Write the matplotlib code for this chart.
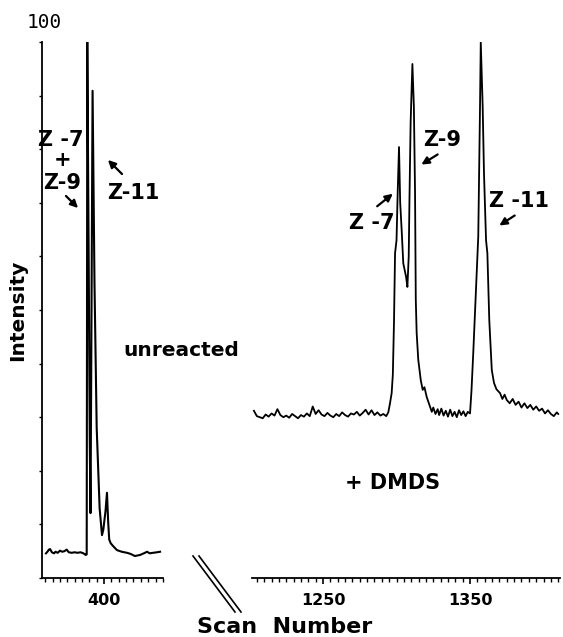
import matplotlib.pyplot as plt
from matplotlib.lines import Line2D
from matplotlib.patches import FancyArrowPatch
from matplotlib.ticker import MultipleLocator

# --- data ---
# left panel: unreacted sample
scan_left = [360.5, 361.5, 362.5, 363.3, 364.5, 366, 367, 368.5, 370, 371.5, 373, 374.6, 376, 378, 380,
             382, 384, 386, 387.5, 388.2, 388.4, 388.6, 389.5, 390.3, 390.8, 391.3, 392.2, 393.5, 395,
             397, 398.6, 399.5, 401, 402, 402.8, 403.5, 404.5, 406, 408.8, 412, 415.6, 418, 421, 424.5,
             427, 429.3, 431, 433.3, 436, 438.1]
int_left = [4.6, 4.9, 5.3, 5.4, 4.8, 4.6, 4.9, 4.7, 5.1, 4.9, 5.0, 5.3, 4.8, 4.7, 4.8,
            4.7, 4.8, 4.6, 4.3, 4.4, 45, 100, 62, 25, 12.1, 40, 90.9, 55, 28,
            13, 8.0, 9, 12.5, 15.9, 10.5, 7.2, 6.5, 6.0, 5.2, 4.9, 4.7, 4.5, 4.1, 4.3,
            4.6, 4.9, 4.6, 4.7, 4.8, 4.9]

# right panel: after DMDS derivatisation
scan_right = [1203, 1205, 1207, 1209, 1211, 1213, 1215, 1217, 1219, 1221, 1223, 1225, 1227, 1229, 1231,
              1233, 1235, 1237, 1239, 1241, 1243, 1245, 1247, 1249, 1251, 1253, 1255, 1257, 1259, 1261,
              1263, 1265, 1267, 1269, 1271, 1273, 1275, 1277, 1279, 1281, 1283, 1285, 1287, 1289, 1291,
              1293, 1294.4, 1295.5, 1296.7, 1297.5, 1298.3, 1299, 1300, 1300.8, 1301.7, 1302.5, 1303.5,
              1304.6, 1306.5, 1307.4, 1308.3, 1308.8, 1309.6, 1310.8, 1311.8, 1312.6, 1313.1, 1313.7,
              1314.8, 1316.5, 1317.8, 1319, 1320.5, 1322.8, 1324, 1325, 1326.5, 1328, 1329, 1330.5,
              1332, 1333.5, 1335, 1336.5, 1338, 1339.5, 1341, 1342.5, 1344, 1345.5, 1347, 1348.5,
              1350, 1351, 1352.2, 1354.1, 1355.6, 1356.2, 1356.8, 1357.3, 1358.6, 1359.5, 1360.9,
              1361.8, 1363.1, 1364.8, 1366.3, 1368, 1370.4, 1372, 1373.5, 1375, 1377, 1379, 1381,
              1383, 1385, 1387, 1389, 1391, 1393, 1395, 1397, 1399, 1401, 1403, 1405, 1407, 1409, 1410]
int_right = [31.2, 30.2, 30.0, 29.8, 30.5, 30.1, 30.7, 30.3, 31.5, 30.4, 30.0, 30.3, 29.9, 30.6, 30.2,
             29.8, 30.4, 30.1, 30.7, 30.2, 32.0, 30.6, 31.3, 30.5, 30.2, 30.8, 30.3, 30.0, 30.6, 30.2,
             30.9, 30.4, 30.1, 30.7, 30.5, 31.0, 30.3, 30.8, 31.4, 30.5, 31.3, 30.4, 30.9, 30.3, 30.6,
             30.2, 30.9, 32.5, 34.5, 38, 48, 60.6, 63, 72, 80.4, 70, 64.9,
             58.7, 56.2, 54.3, 60, 70.5, 85, 95.9, 88, 72, 52, 45.7,
             40.7, 36.9, 35.1, 35.6, 33.8, 32.0, 31.0, 31.8, 30.6, 31.5, 30.4, 31.6,
             30.3, 31.2, 30.1, 31.4, 30.2, 31.0, 30.0, 31.3, 30.4, 31.1, 30.2, 31.0,
             30.7, 35, 42, 54.3, 63.7, 75.5, 88, 100, 88, 75.5, 63,
             60.6, 48.1, 38.8, 36.4, 35.2, 34.5, 33.4, 34.2, 33.2, 32.6, 33.4, 32.3,
             32.9, 31.8, 32.6, 31.7, 32.3, 31.4, 32.0, 31.2, 31.6, 30.7, 31.3, 30.6, 30.2, 30.9, 30.6]

W, H = 563, 637


def fp(x, y):
    # pixel position (from top left) -> figure fraction
    return (x / W, 1 - y / H)


fig = plt.figure(figsize=(W / 100, H / 100), dpi=100)
bot = (H - 578) / H
hgt = 536 / H
ax_l = fig.add_axes([42 / W, bot, 121 / W, hgt])
ax_r = fig.add_axes([252 / W, bot, 308 / W, hgt])

ax_l.plot(scan_left, int_left, color='black', lw=1.5)
ax_r.plot(scan_right, int_right, color='black', lw=1.3)

ax_l.set_xlim(357.8, 440.1)
ax_r.set_xlim(1201.7, 1411.2)
for ax in (ax_l, ax_r):
    ax.set_ylim(0, 100)
    ax.patch.set_visible(False)
    ax.spines['top'].set_visible(False)
    ax.spines['right'].set_visible(False)
    ax.spines['bottom'].set_linewidth(1.3)
    ax.xaxis.set_minor_locator(MultipleLocator(5))
    ax.tick_params(axis='x', which='minor', direction='out', length=3, width=1)
    ax.tick_params(axis='x', which='major', direction='out', length=4.5, width=1.2, pad=6,
                   labelsize=11.5)

ax_l.set_xticks([400])
ax_l.set_xticklabels(['400'], fontweight='bold')
ax_r.set_xticks([1250, 1350])
ax_r.set_xticklabels(['1250', '1350'], fontweight='bold')

ax_l.spines['left'].set_linewidth(1.3)
ax_l.set_yticks(range(0, 101, 10))
ax_l.tick_params(axis='y', direction='out', length=2.5, width=1, labelleft=False)
ax_r.spines['left'].set_visible(False)
ax_r.set_yticks([])

# texts
bold = dict(fontweight='bold', fontfamily='DejaVu Sans', ha='center', va='center')
fig.text(*fp(44, 23), '100', fontsize=14, fontfamily='DejaVu Sans Mono', ha='center', va='center')
fig.text(*fp(18, 310), 'Intensity', rotation=90, fontsize=14.5, **bold)
fig.text(*fp(61, 140), 'Z -7', fontsize=15, **bold)
fig.text(*fp(63, 160), '+', fontsize=15, **bold)
fig.text(*fp(62, 183), 'Z-9', fontsize=15, **bold)
fig.text(*fp(133, 193), 'Z-11', fontsize=15, **bold)
fig.text(*fp(181, 350), 'unreacted', fontsize=14.5, **bold)
fig.text(*fp(442, 140), 'Z-9', fontsize=15, **bold)
fig.text(*fp(372, 223), 'Z -7', fontsize=15, **bold)
fig.text(*fp(519, 201), 'Z -11', fontsize=15, **bold)
fig.text(*fp(393, 483), '+ DMDS', fontsize=15, **bold)
fig.text(*fp(285, 627), 'Scan  Number', fontsize=16, **bold)

# arrows pointing at the peaks
arrows = [((64, 194), (80, 210)), ((124, 176), (106, 158)), ((440, 153), (419, 166)),
          ((375, 208), (395, 192)), ((517, 214), (497, 227))]
for tail, head in arrows:
    fig.add_artist(FancyArrowPatch(fp(*tail), fp(*head), transform=fig.transFigure,
                                   arrowstyle='-|>', mutation_scale=11, lw=1.6, color='black'))

# axis break marks
for dx in (0, 6):
    x0, y0 = fp(193 + dx, 556)
    x1, y1 = fp(235 + dx, 612)
    fig.add_artist(Line2D([x0, x1], [y0, y1], color='black', lw=1.2, transform=fig.transFigure))

fig.savefig('out.png', dpi=100)
